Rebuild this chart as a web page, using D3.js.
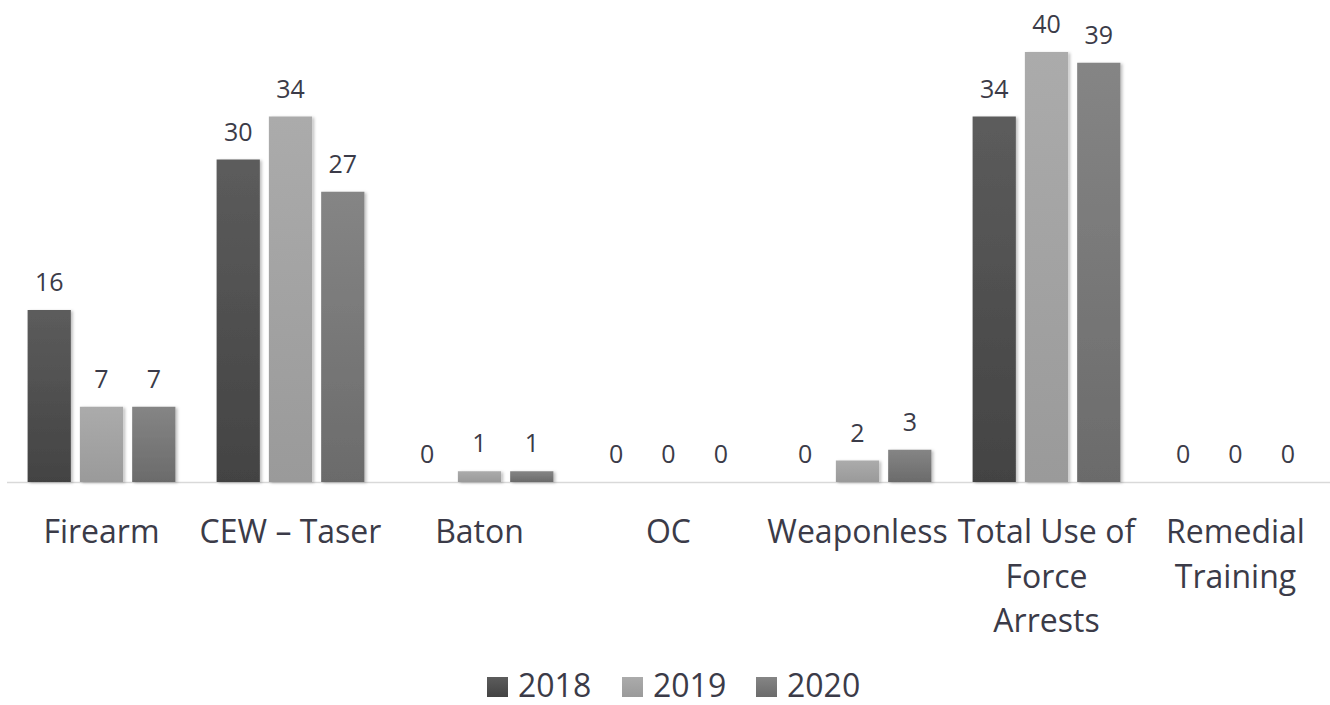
<!DOCTYPE html>
<html>
<head>
<meta charset="utf-8">
<script src="https://cdn.jsdelivr.net/npm/d3@7"></script>
<style>
  body { margin: 0; background: #fff; }
  text { font-family: "Open Sans", sans-serif; }
</style>
</head>
<body>
<div id="chart"></div>
<script>
// categories and values
const categories = ["Firearm", "CEW – Taser", "Baton", "OC", "Weaponless", "Total Use of Force Arrests", "Remedial Training"];
const categoryLines = [["Firearm"], ["CEW – Taser"], ["Baton"], ["OC"], ["Weaponless"], ["Total Use of", "Force", "Arrests"], ["Remedial", "Training"]];
const years = ["2018", "2019", "2020"];
const values2018 = [16, 30, 0, 0, 0, 34, 0];
const values2019 = [7, 34, 1, 0, 2, 40, 0];
const values2020 = [7, 27, 1, 0, 3, 39, 0];
const yearColors = [["#5c5c5c", "#434343"], ["#ababab", "#9a9a9a"], ["#858585", "#6b6b6b"]];

const width = 1330, height = 705;
const svg = d3.select("#chart").append("svg")
    .attr("width", width)
    .attr("height", height);

const defs = svg.append("defs");
yearColors.forEach((c, i) => {
    const g = defs.append("linearGradient")
        .attr("id", "grad" + i)
        .attr("x1", 0).attr("y1", 0).attr("x2", 0).attr("y2", 1);
    g.append("stop").attr("offset", "0%").attr("stop-color", c[0]);
    g.append("stop").attr("offset", "100%").attr("stop-color", c[1]);
});
const shadow = defs.append("filter").attr("id", "shadow")
    .attr("x", "-20%").attr("y", "-20%").attr("width", "150%").attr("height", "150%");
shadow.append("feDropShadow")
    .attr("dx", 2).attr("dy", 1).attr("stdDeviation", 1.5)
    .attr("flood-color", "#000").attr("flood-opacity", 0.25);

const x0 = d3.scaleBand()
    .domain(categories)
    .range([7, 1330])
    .paddingInner(0.218)
    .paddingOuter(0.109);

const x1 = d3.scaleBand()
    .domain(years)
    .range([0, x0.bandwidth()])
    .paddingInner(0.173)
    .paddingOuter(0);

const y = d3.scaleLinear()
    .domain([0, 40])
    .range([482, 52]);

// baseline
svg.append("line")
    .attr("x1", 7).attr("x2", 1330)
    .attr("y1", y(0) + 0.5).attr("y2", y(0) + 0.5)
    .attr("stroke", "#d9d9d9").attr("stroke-width", 1.5);

const series = [values2018, values2019, values2020];
const rows = categories.map((c, i) => ({
    cat: c,
    vals: years.map((yr, j) => ({ year: yr, idx: j, value: series[j][i] }))
}));

const groups = svg.selectAll(".group")
    .data(rows)
    .join("g")
    .attr("class", "group")
    .attr("transform", d => `translate(${x0(d.cat)},0)`);

groups.selectAll("rect")
    .data(d => d.vals.filter(v => v.value > 0))
    .join("rect")
    .attr("x", d => x1(d.year))
    .attr("y", d => y(d.value))
    .attr("width", x1.bandwidth())
    .attr("height", d => y(0) - y(d.value))
    .attr("fill", d => `url(#grad${d.idx})`)
    .attr("filter", "url(#shadow)");

groups.selectAll(".val")
    .data(d => d.vals)
    .join("text")
    .attr("class", "val")
    .attr("x", d => x1(d.year) + x1.bandwidth() / 2)
    .attr("y", d => y(d.value) - 19)
    .attr("text-anchor", "middle")
    .attr("font-size", 25)
    .attr("fill", "#3b3b48")
    .text(d => d.value);

// category labels
const xAxis = svg.append("g");
xAxis.selectAll("text")
    .data(categories)
    .join("text")
    .attr("x", d => x0(d) + x0.bandwidth() / 2)
    .attr("y", 543)
    .attr("text-anchor", "middle")
    .attr("font-size", 32)
    .attr("fill", "#3b3b48")
    .each(function(d, i) {
        const t = d3.select(this);
        categoryLines[i].forEach((line, k) => {
            t.append("tspan")
                .attr("x", x0(d) + x0.bandwidth() / 2)
                .attr("dy", k === 0 ? 0 : 44.5)
                .text(line);
        });
    });

// legend
const legendX = [487, 622, 756];
const legend = svg.append("g");
years.forEach((yr, i) => {
    legend.append("rect")
        .attr("x", legendX[i]).attr("y", 677)
        .attr("width", 21).attr("height", 20)
        .attr("fill", `url(#grad${i})`);
    legend.append("text")
        .attr("x", legendX[i] + 31).attr("y", 697)
        .attr("font-size", 32)
        .attr("fill", "#3b3b48")
        .text(yr);
});
</script>
</body>
</html>
